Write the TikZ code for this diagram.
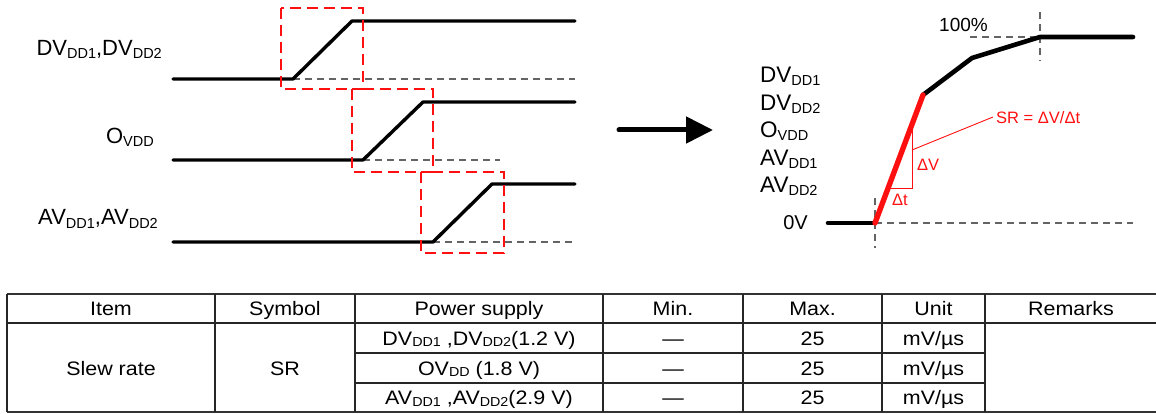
\documentclass[tikz,border=0pt]{standalone}
\usepackage{fontspec}
\setmainfont{Liberation Sans}
\newfontfamily\tabfont[FakeStretch=1.1]{Liberation Sans}
\usetikzlibrary{arrows.meta}
\definecolor{dgray}{RGB}{100,100,100}
\definecolor{sred}{RGB}{255,16,16}
\newcommand\lsub[1]{\raisebox{-3pt}{\fontsize{14.5}{14.5}\selectfont #1}}
\newcommand\tsub[1]{\raisebox{-1.5pt}{\fontsize{13}{13}\selectfont #1}}
\tikzset{
  wave/.style={line width=3.4pt, black, line join=round, line cap=round},
  bigwave/.style={line width=4.6pt, black, line join=round, line cap=round},
  redwave/.style={line width=5.4pt, sred, line cap=round},
  gdash/.style={line width=1.4pt, dgray, dash pattern=on 7pt off 5pt},
  rbox/.style={line width=1.9pt, sred, dash pattern=on 11pt off 6pt},
  thinred/.style={line width=0.9pt, sred},
  lbl/.style={inner sep=0pt, font=\fontsize{22}{22}\selectfont},
  rlbl/.style={inner sep=0pt, font=\fontsize{22.5}{22.5}\selectfont},
  redlbl/.style={inner sep=0pt, text=sred, font=\fontsize{16.5}{16.5}\selectfont},
  tline/.style={line width=1.2pt, black!85},
  tthick/.style={line width=2pt, black!80},
  tcell/.style={inner sep=0pt, anchor=base, font=\tabfont\fontsize{19.5}{19.5}\selectfont},
}
\begin{document}
\begin{tikzpicture}[x=1pt,y=-1pt]
\useasboundingbox (0,0) rectangle (1156,414);

% ---------- left waveforms ----------
% wave 1
\coordinate (a0) at (173,79); \coordinate (a1) at (293,79);
\coordinate (a2) at (352,21); \coordinate (a3) at (575,21);
\coordinate (a4) at (575,79);
\draw[gdash] (a1) -- (a4);
\draw[wave] (a0) -- (a1) -- (a2) -- (a3);
% wave 2
\coordinate (b0) at (173,160); \coordinate (b1) at (363,160);
\coordinate (b2) at (423,102); \coordinate (b3) at (575,102);
\coordinate (b4) at (500,160);
\draw[gdash] (b1) -- (b4);
\draw[wave] (b0) -- (b1) -- (b2) -- (b3);
% wave 3
\coordinate (c0) at (173,242); \coordinate (c1) at (433,242);
\coordinate (c2) at (492,184); \coordinate (c3) at (575,184);
\coordinate (c4) at (574,242);
\draw[gdash] (c1) -- (c4);
\draw[wave] (c0) -- (c1) -- (c2) -- (c3);
% red boxes
\draw[rbox] (281,8) rectangle (363,89);
\draw[rbox] (352,89) rectangle (433,172);
\draw[rbox] (421,172) rectangle (504,253);

% labels
\node[lbl, anchor=base east] (ldv) at (162,56) {DV\lsub{DD1},DV\lsub{DD2}};
\node[lbl, anchor=base east] (lov) at (154,144) {O\lsub{VDD}};
\node[lbl, anchor=base east] (lav) at (158,225) {AV\lsub{DD1},AV\lsub{DD2}};

% ---------- big arrow ----------
\coordinate (arrS) at (619,130);
\coordinate (arrE) at (713,130);
\draw[line width=5pt, line cap=round, -{Triangle[length=27pt,width=26pt]}] (arrS) -- (arrE);

% ---------- right graph ----------
\coordinate (g0) at (828,223);
\coordinate (g1) at (875,223);
\coordinate (g2) at (923,95);
\coordinate (g3) at (972,58);
\coordinate (g4) at (1040,37);
\coordinate (g5) at (1133,37);
\draw[gdash] (g1) -- (1133,223);
\draw[gdash] (875,198) -- (875,248);
\draw[gdash] (970,37) -- (g4);
\draw[gdash] (1040,12) -- (1040,61);
\draw[bigwave] (g0) -- (g1);
\draw[bigwave] (g2) -- (g3) -- (g4) -- (g5);
\draw[redwave] (g1) -- (g2);
% triangle
\coordinate (t1) at (912,126);
\coordinate (t2) at (912,188);
\coordinate (t3) at (889,188);
\draw[thinred] (t1) -- (t2) -- (t3);
\coordinate (p0) at (912,150);
\coordinate (p1) at (993,117);
\draw[thinred] (p0) -- (p1);
\node[redlbl, anchor=west] (sr) at (996,118) {SR = ΔV/Δt};
\node[redlbl, anchor=west] (dv) at (917,165) {ΔV};
\node[redlbl] (dt) at (900,200) {Δt};
\node[inner sep=0pt, anchor=east, font=\fontsize{19}{19}\selectfont] (pct) at (988,25) {100\%};
\node[inner sep=0pt, anchor=east, font=\fontsize{20}{20}\selectfont] (zv) at (808,223) {0V};

\node[rlbl, anchor=base west] (r1) at (760,83) {DV\lsub{DD1}};
\node[rlbl, anchor=base west] (r2) at (760,110.5) {DV\lsub{DD2}};
\node[rlbl, anchor=base west] (r3) at (760,138) {O\lsub{VDD}};
\node[rlbl, anchor=base west] (r4) at (760,165.5) {AV\lsub{DD1}};
\node[rlbl, anchor=base west] (r5) at (760,193) {AV\lsub{DD2}};

% ---------- table ----------
\draw[tthick] (7,294) -- (1160,294);
\draw[tline] (7,323) -- (1160,323);
\draw[tline] (355,353) -- (985,353);
\draw[tline] (355,383) -- (985,383);
\draw[tthick] (7,412) -- (1160,412);
\foreach \x in {7,215,355,603,743,882,985} {
  \draw[tline] (\x,294) -- (\x,412);
}
% header
\node[tcell] (h1) at (111,315.5) {Item};
\node[tcell] (h2) at (285,315.5) {Symbol};
\node[tcell] (h3) at (479,315.5) {Power supply};
\node[tcell] (h4) at (673,315.5) {Min.};
\node[tcell] (h5) at (812.5,315.5) {Max.};
\node[tcell] (h6) at (933.5,315.5) {Unit};
\node[tcell] (h7) at (1071,315.5) {Remarks};
% body
\node[tcell] (s1) at (111,375) {Slew rate};
\node[tcell] (s2) at (285,375) {SR};
\node[tcell] (p1a) at (479,345) {DV\tsub{DD1} ,DV\tsub{DD2}(1.2 V)};
\node[tcell] (p2a) at (479,375) {OV\tsub{DD} (1.8 V)};
\node[tcell] (p3a) at (479,404.5) {AV\tsub{DD1} ,AV\tsub{DD2}(2.9 V)};
\node[tcell] (m1) at (673,345) {—};
\node[tcell] (m2) at (673,375) {—};
\node[tcell] (m3) at (673,404.5) {—};
\node[tcell] (x1) at (812.5,345) {25};
\node[tcell] (x2) at (812.5,375) {25};
\node[tcell] (x3) at (812.5,404.5) {25};
\node[tcell] (u1) at (933.5,345) {mV/µs};
\node[tcell] (u2) at (933.5,375) {mV/µs};
\node[tcell] (u3) at (933.5,404.5) {mV/µs};
\end{tikzpicture}
\end{document}
